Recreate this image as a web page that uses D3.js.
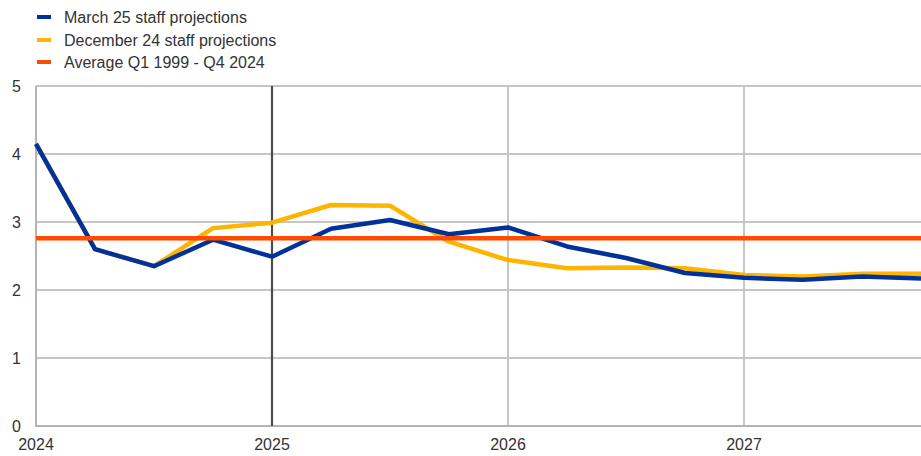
<!DOCTYPE html>
<html><head><meta charset="utf-8">
<script src="https://cdn.jsdelivr.net/npm/d3@7/dist/d3.min.js"></script>
<style>body{margin:0;background:#fff}svg{display:block;font-family:"Liberation Sans",Arial,sans-serif}</style>
</head><body><svg id="c" width="921" height="456"></svg>
<script>
const quarters = [2024.0,2024.25,2024.5,2024.75,2025.0,2025.25,2025.5,2025.75,2026.0,2026.25,2026.5,2026.75,2027.0,2027.25,2027.5,2027.75];
const march25 = [4.15,2.60,2.35,2.74,2.49,2.90,3.03,2.82,2.92,2.64,2.47,2.25,2.18,2.15,2.20,2.17];
const december24 = [4.15,2.60,2.35,2.91,2.99,3.25,3.24,2.71,2.44,2.32,2.33,2.32,2.22,2.20,2.24,2.24];
const average = 2.76;
const yTicks = [0,1,2,3,4,5];
const xTicks = [2024,2025,2026,2027];
const seriesNames = ["March 25 staff projections","December 24 staff projections","Average Q1 1999 - Q4 2024"];
const colors = ["#003299","#FFB400","#FF4B00"];

const svg = d3.select("#c");
const x = d3.scaleLinear().domain([2024,2027.75]).range([36,921]);
const y = d3.scaleLinear().domain([0,5]).range([426,86]);

// horizontal gridlines
svg.append("g").selectAll("line").data(yTicks.filter(d=>d>0)).join("line")
  .attr("x1",x(2024)).attr("x2",921).attr("y1",d=>y(d)).attr("y2",d=>y(d))
  .attr("stroke","#c6c6c6").attr("stroke-width",2);
// vertical gridlines
svg.append("g").selectAll("line").data([2026,2027]).join("line")
  .attr("x1",d=>x(d)).attr("x2",d=>x(d)).attr("y1",y(5)).attr("y2",y(0))
  .attr("stroke","#c6c6c6").attr("stroke-width",2);
// left axis line
svg.append("line").attr("x1",x(2024)).attr("x2",x(2024)).attr("y1",y(5)).attr("y2",y(0))
  .attr("stroke","#b4b4b4").attr("stroke-width",2);
// bottom axis
svg.append("line").attr("x1",x(2024)-1).attr("x2",921).attr("y1",y(0)).attr("y2",y(0))
  .attr("stroke","#b4b4b4").attr("stroke-width",2);
// 2025 marker line
svg.append("line").attr("x1",x(2025)).attr("x2",x(2025)).attr("y1",y(5)).attr("y2",y(0))
  .attr("stroke","#4d4d4d").attr("stroke-width",2.2);

// y labels
svg.append("g").selectAll("text").data(yTicks).join("text")
  .attr("x",21).attr("y",d=>y(d)).attr("dy","0.35em").attr("text-anchor","end")
  .attr("font-size",16).attr("fill","#333").text(d=>d);
// x labels
svg.append("g").selectAll("text").data(xTicks).join("text")
  .attr("x",d=>x(d)).attr("y",444).attr("dy","0.35em").attr("text-anchor","middle")
  .attr("font-size",16).attr("fill","#333").text(d=>d);

const line = d3.line().x((d,i)=>x(quarters[i])).y(d=>y(d));
svg.append("path").datum(december24).attr("d",line).attr("fill","none")
  .attr("stroke",colors[1]).attr("stroke-width",4.5).attr("stroke-linejoin","round");
svg.append("path").datum(march25).attr("d",line).attr("fill","none")
  .attr("stroke",colors[0]).attr("stroke-width",4.5).attr("stroke-linejoin","round");
svg.append("line").attr("x1",x(2024)).attr("x2",921).attr("y1",y(average)).attr("y2",y(average))
  .attr("stroke",colors[2]).attr("stroke-width",4.5);

// legend
const lg = svg.append("g").selectAll("g").data(seriesNames).join("g")
  .attr("transform",(d,i)=>`translate(0,${[17,40,62][i]})`);
lg.append("rect").attr("x",37).attr("y",-2).attr("width",14).attr("height",4).attr("fill",(d,i)=>colors[i]);
lg.append("text").attr("x",64).attr("y",0).attr("dy","0.35em").attr("font-size",16).attr("fill","#333").text(d=>d);
</script></body></html>
